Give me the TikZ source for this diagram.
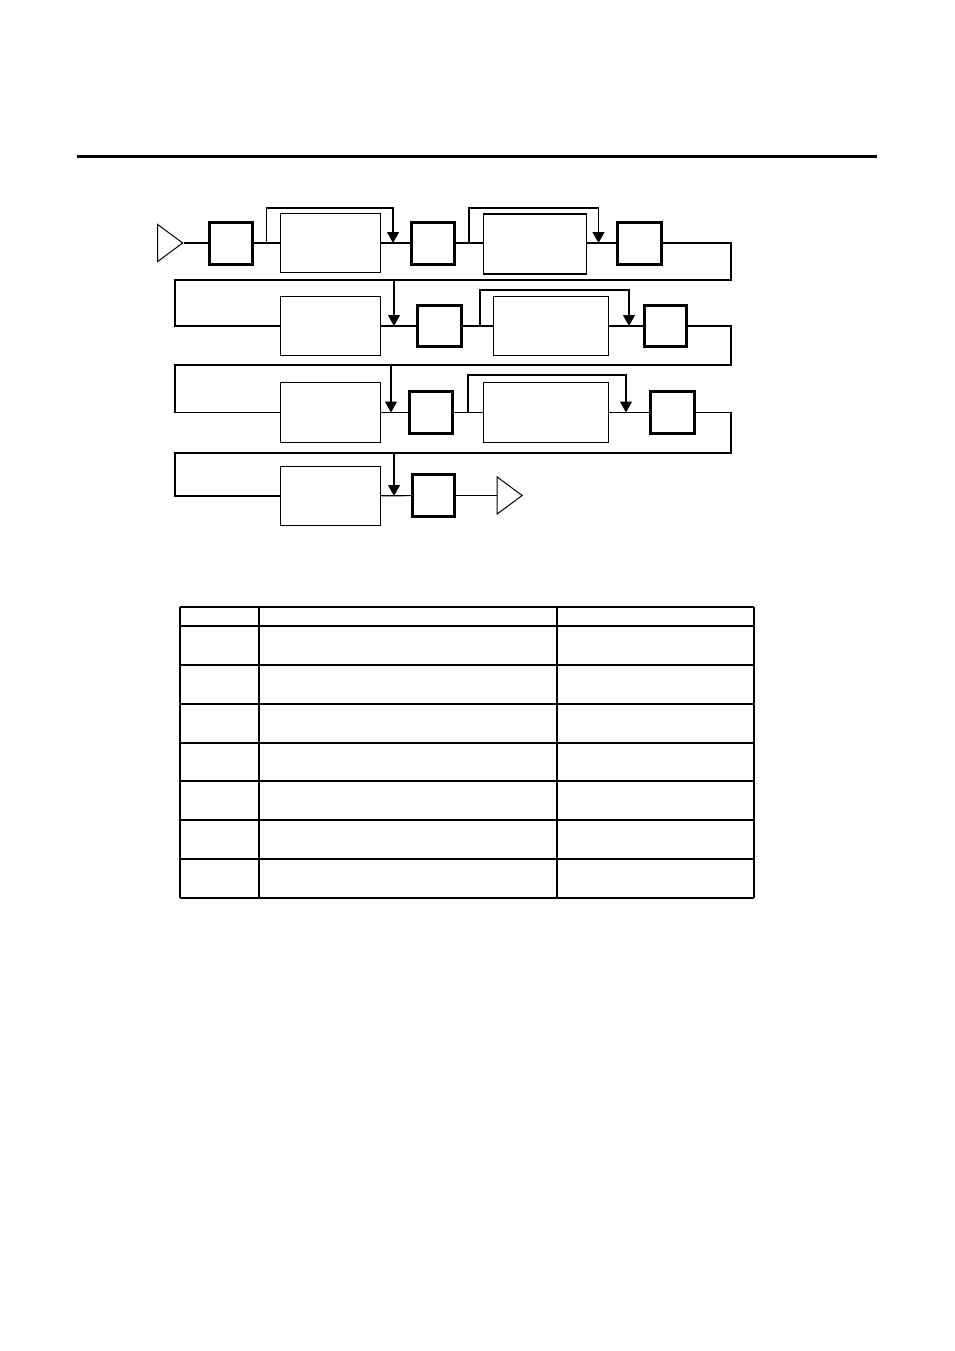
\documentclass[tikz,border=0pt]{standalone}
\usetikzlibrary{shapes.geometric,arrows.meta}
\tikzset{%
	stage/.style = {draw, line width=1.3pt, rectangle, inner sep=0pt,
		minimum width=100pt, minimum height=59pt}, % wide block
	gain/.style  = {draw, line width=3pt, rectangle, inner sep=0pt,
		minimum width=43pt, minimum height=42pt}, % small bold block
	port/.style  = {draw, line width=1pt, isosceles triangle,
		isosceles triangle stretches, inner sep=0pt,
		minimum width=37pt, minimum height=25pt}, % in / out
	wire/.style  = {line width=1.2pt},
	tap/.style   = {line width=1.2pt, -{Triangle[width=12pt,length=11pt]}},
	rule/.style  = {line width=1.2pt}
}
\begin{document}
\begin{tikzpicture}[x=1pt,y=-1pt]
	\useasboundingbox (0,0) rectangle (954,1351);
	\draw[line width=3pt] (77,157) -- (877,157);

	% row 1
	\node[port] (in) at (167,243) {};
	\node[gain] (b1) at (231,243) {};
	\node[stage] (b2) at (330.5,243) {};
	\node[gain] (b3) at (432.5,243) {};
	\node[stage, minimum width=103pt, minimum height=60pt] (b4) at (535,244) {};
	\node[gain, minimum width=44pt] (b5) at (639.5,243) {};
	% row 2
	\node[stage] (b6) at (330.5,326) {};
	\node[gain, minimum width=44pt, minimum height=41pt] (b7) at (439.5,326) {};
	\node[stage, minimum width=115pt] (b8) at (551,326) {};
	\node[gain, minimum width=42pt, minimum height=41pt] (b9) at (665.5,326) {};
	% row 3
	\node[stage, minimum height=60pt] (b10) at (330.5,412.5) {};
	\node[gain] (b11) at (431,412.5) {};
	\node[stage, minimum width=125pt, minimum height=60pt] (b12) at (546,412.5) {};
	\node[gain, minimum width=44pt] (b13) at (672.5,412.5) {};
	% row 4
	\node[stage] (b14) at (330.5,496) {};
	\node[gain, minimum width=42pt] (b15) at (433.5,495.5) {};
	\node[port] (out) at (506.5,495.5) {};

	\coordinate (t1) at (266.5,243);
	\coordinate (j1) at (393,243);
	\coordinate (t2) at (469,243);
	\coordinate (j2) at (598.5,243);
	\coordinate (k1) at (731,280);
	\coordinate (l1) at (175,280);
	\coordinate (j3) at (394,326);
	\coordinate (t3) at (480,326);
	\coordinate (j4) at (629,326);
	\coordinate (k2) at (731,365);
	\coordinate (l2) at (175,365);
	\coordinate (j5) at (391,412.5);
	\coordinate (t4) at (468,412.5);
	\coordinate (j6) at (626,412.5);
	\coordinate (k3) at (731,453);
	\coordinate (l3) at (175,453);
	\coordinate (j7) at (394,496);

	\draw[wire] (in) -- (b1);
	\draw[wire] (b1) -- (b2);
	\draw[wire] (b2) -- (b3);
	\draw[wire] (b3) -- (b4.west |- b3);
	\draw[wire] (b4.east |- b5) -- (b5);
	\draw[wire] (b5) -| (k1) -- (l1) |- (b6);
	\draw[wire] (b6) -- (b7);
	\draw[wire] (b7) -- (b8);
	\draw[wire] (b8) -- (b9);
	\draw[wire] (b9) -| (k2) -- (l2) |- (b10);
	\draw[wire] (b10) -- (b11);
	\draw[wire] (b11) -- (b12);
	\draw[wire] (b12) -- (b13);
	\draw[wire] (b13) -| (k3) -- (l3) |- (b14);
	\draw[wire] (b14) -- (b15);
	\draw[wire] (b15) -- (out);

	\draw[tap] (t1) -- ++(0,-35) -| (j1);
	\draw[tap] (t2) -- ++(0,-35) -| (j2);
	\draw[tap] (j3 |- k1) -- (j3);
	\draw[tap] (t3) -- ++(0,-36) -| (j4);
	\draw[tap] (j5 |- k2) -- (j5);
	\draw[tap] (t4) -- ++(0,-37.5) -| (j6);
	\draw[tap] (j7 |- k3) -- (j7);

	% table
	\foreach \y in {607,626,665,704,781,820,859,898}
		\draw[rule] (180,\y) -- (754,\y);
	\draw[line width=2.2pt] (180,743) -- (754,743);
	\foreach \x in {180,259,557,754}
		\draw[rule] (\x,607) -- (\x,898);
\end{tikzpicture}
\end{document}
